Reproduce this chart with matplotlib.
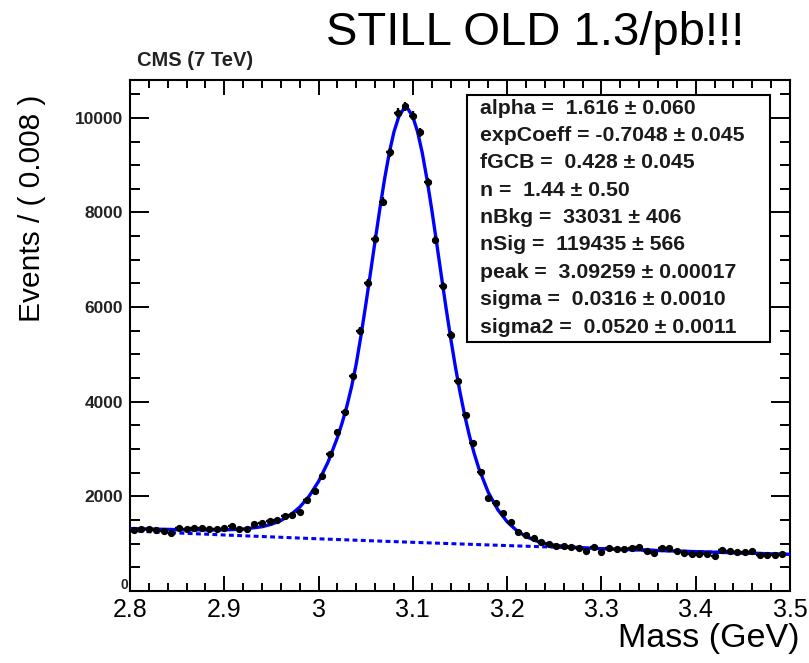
import numpy as np
import matplotlib
matplotlib.use("Agg")
import matplotlib.pyplot as plt
from matplotlib.ticker import MultipleLocator

plt.rcParams['font.family'] = ['Liberation Sans', 'DejaVu Sans']

# ---------------- data ----------------
bin_width = 0.008
bin_centers = [round(2.804 + bin_width * i, 3) for i in range(87)]
counts = [
    1290, 1304, 1304, 1290, 1275, 1233, 1325, 1318, 1340, 1340,
    1318, 1318, 1340, 1374, 1304, 1304, 1417, 1444, 1480, 1501,
    1586, 1607, 1677, 1924, 2114, 2431, 2890, 3368, 3778, 4545,
    5503, 6505, 7442, 8230, 9275, 10099, 10240, 10048, 9697, 8640,
    7421, 6448, 5412, 4440, 3721, 3122, 2509, 1973, 1854, 1643,
    1465, 1254, 1184, 1114, 1042, 990, 951, 951, 937, 900,
    852, 923, 831, 902, 895, 895, 902, 937, 852, 796,
    902, 902, 852, 810, 782, 782, 782, 740, 867, 852,
    831, 831, 852, 761, 761, 761, 782,
]

# total fit curve
fit_x = [2.80, 2.82, 2.84, 2.86, 2.88, 2.90, 2.92, 2.94, 2.95, 2.96,
         2.97, 2.98, 2.99, 3.00, 3.01, 3.02, 3.025, 3.03, 3.035, 3.04,
         3.045, 3.05, 3.055, 3.06, 3.065, 3.07, 3.075, 3.08, 3.085, 3.09,
         3.0926, 3.095, 3.10, 3.105, 3.11, 3.115, 3.12, 3.125, 3.13, 3.135,
         3.14, 3.145, 3.15, 3.155, 3.16, 3.165, 3.17, 3.18, 3.19, 3.20,
         3.21, 3.22, 3.23, 3.24, 3.25, 3.26, 3.28, 3.30, 3.35, 3.40,
         3.45, 3.50]
fit_y = [1320, 1310, 1302, 1294, 1290, 1292, 1308, 1358, 1410, 1490,
         1605, 1772, 2005, 2316, 2723, 3243, 3554, 3907, 4317, 4806,
         5400, 6042, 6718, 7405, 8079, 8708, 9261, 9707, 10021, 10184,
         10204, 10183, 10021, 9705, 9257, 8699, 8067, 7387, 6693, 6008,
         5357, 4751, 4200, 3711, 3280, 2910, 2589, 2084, 1722, 1463,
         1279, 1151, 1065, 1007, 969, 943, 913, 894, 862, 832,
         803, 775]

# background component (dotted)
bkg_x = [2.80, 2.90, 3.00, 3.10, 3.20, 3.30, 3.40, 3.50]
bkg_y = [1270, 1184, 1103, 1029, 960, 894, 832, 775]

params = [
    "alpha =  1.616 \u00b1 0.060",
    "expCoeff = -0.7048 \u00b1 0.045",
    "fGCB =  0.428 \u00b1 0.045",
    "n =  1.44 \u00b1 0.50",
    "nBkg =  33031 \u00b1 406",
    "nSig =  119435 \u00b1 566",
    "peak =  3.09259 \u00b1 0.00017",
    "sigma =  0.0316 \u00b1 0.0010",
    "sigma2 =  0.0520 \u00b1 0.0011",
]

# ---------------- figure ----------------
W, H = 809, 663
fig = plt.figure(figsize=(W / 100, H / 100), dpi=100)
ax = fig.add_axes([130 / W, 72 / H, 660 / W, 511 / H])

blue = '#0000ff'
ax.plot(bkg_x, bkg_y, color=blue, lw=2.2, linestyle=(0, (1.6, 1.1)), zorder=2)
ax.plot(fit_x, fit_y, color=blue, lw=2.4, zorder=3)
ax.errorbar(bin_centers, counts, yerr=np.sqrt(counts), xerr=bin_width / 2,
            fmt='o', color='black', ms=4.2, elinewidth=1.7, capsize=0, zorder=4)

ax.set_xlim(2.8, 3.5)
ax.set_ylim(0, 10800)
ax.xaxis.set_major_locator(MultipleLocator(0.1))
ax.xaxis.set_minor_locator(MultipleLocator(0.02))
ax.set_xticks([2.8, 2.9, 3.0, 3.1, 3.2, 3.3, 3.4, 3.5])
ax.set_xticklabels(['2.8', '2.9', '3', '3.1', '3.2', '3.3', '3.4', '3.5'])
ax.set_yticks([0, 2000, 4000, 6000, 8000, 10000])
ax.set_yticklabels(['', '2000', '4000', '6000', '8000', '10000'])
ax.yaxis.set_minor_locator(MultipleLocator(500))

ax.tick_params(axis='both', which='both', direction='in', top=True, right=True,
               width=1.4, colors='black')
ax.tick_params(axis='x', which='major', length=11, labelsize=18, pad=5)
ax.tick_params(axis='x', which='minor', length=5.5)
ax.tick_params(axis='y', which='major', length=14, labelsize=12.5, pad=5)
ax.tick_params(axis='y', which='minor', length=7)
for lab in ax.get_yticklabels():
    lab.set_fontweight('bold')
    lab.set_color('#222222')
for s in ax.spines.values():
    s.set_linewidth(1.5)

# the "0" label sits tight in the corner, as in the reference
fig.text(128 / W, 1 - 585 / H, "0", fontsize=10, fontweight='bold',
         ha='right', va='center', color='#222222')

# parameter box
box_l, box_r = (467 - 130) / 660, (770 - 130) / 660
box_b, box_t = (591 - 342) / 511, (591 - 95) / 511
rect = plt.Rectangle((box_l, box_b), box_r - box_l, box_t - box_b,
                     transform=ax.transAxes, facecolor='white',
                     edgecolor='black', lw=1.5, zorder=5)
ax.add_patch(rect)
for k, t in enumerate(params):
    yp = 108 + 27.4 * k
    fig.text(480 / W, 1 - yp / H, t, fontsize=15.3, fontweight='bold',
             ha='left', va='center', color='#1a1a1a', zorder=6)

# texts
fig.text(535 / W, 1 - 33 / H, "STILL OLD 1.3/pb!!!", fontsize=34,
         ha='center', va='center', color='black')
fig.text(137 / W, 1 - 60 / H, "CMS (7 TeV)", fontsize=14.5, fontweight='bold',
         ha='left', va='center', color='#222222')
fig.text(32 / W, 1 - 95 / H, "Events / ( 0.008 )", fontsize=21.5,
         rotation=90, ha='center', va='top', color='black')
fig.text(800 / W, 1 - 638 / H, "Mass (GeV)", fontsize=24.5,
         ha='right', va='center', color='black')

fig.savefig("out.png", dpi=100)
